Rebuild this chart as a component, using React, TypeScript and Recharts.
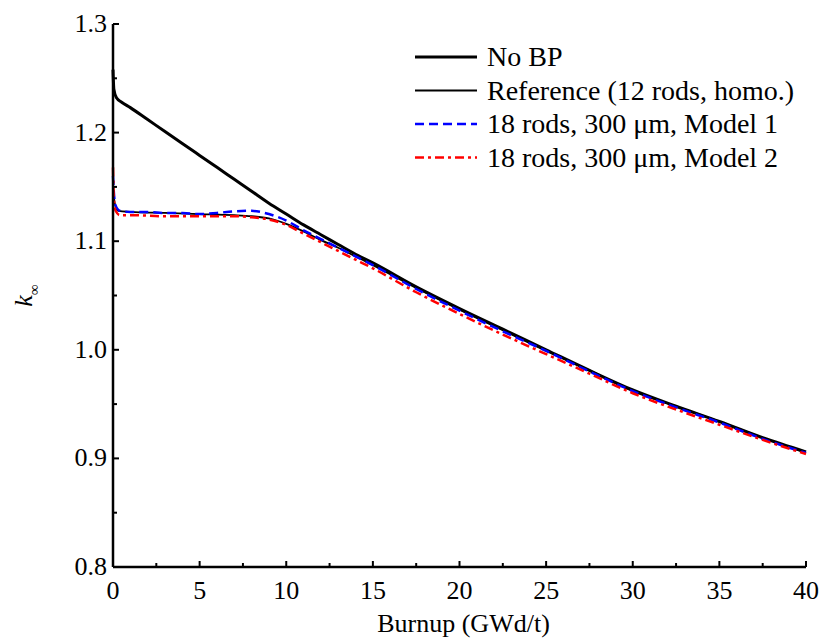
import React from 'react';
import { LineChart, Line, XAxis, YAxis } from 'recharts';

// burnup points (GWd/t) and k-inf values
const noBpBurnup = [0, 0.05, 0.2, 0.5, 1, 2, 3, 4, 5, 6, 7, 8, 9, 10, 11, 12, 13, 14, 15, 17.5, 20, 22.5, 25, 27.5, 30, 32.5, 35, 37.5, 40];
const noBpK = [1.258, 1.240, 1.232, 1.228, 1.223, 1.212, 1.201, 1.190, 1.179, 1.168, 1.157, 1.146, 1.135, 1.125, 1.115, 1.106, 1.097, 1.088, 1.080, 1.058, 1.038, 1.019, 1.000, 0.981, 0.963, 0.948, 0.934, 0.919, 0.906];

const refBurnup = [0, 0.1, 0.3, 1, 3, 5, 7, 8, 9, 10, 11, 12, 13, 14, 15, 17.5, 20, 22.5, 25, 27.5, 30, 32.5, 35, 37.5, 40];
const refK = [1.150, 1.135, 1.128, 1.127, 1.126, 1.125, 1.124, 1.123, 1.121, 1.116, 1.109, 1.101, 1.094, 1.086, 1.078, 1.057, 1.037, 1.018, 0.999, 0.981, 0.962, 0.948, 0.934, 0.919, 0.905];

const m1Burnup = [0, 0.05, 0.15, 0.4, 1, 2, 3, 4, 5, 6, 7, 8, 8.5, 9, 10, 11, 12, 13, 14, 15, 17.5, 20, 22.5, 25, 27.5, 30, 32.5, 35, 37.5, 40];
const m1K = [1.160, 1.145, 1.133, 1.128, 1.127, 1.127, 1.126, 1.126, 1.125, 1.126, 1.1275, 1.128, 1.127, 1.125, 1.119, 1.110, 1.102, 1.094, 1.086, 1.078, 1.056, 1.036, 1.017, 0.999, 0.980, 0.962, 0.947, 0.933, 0.918, 0.905];

const m2Burnup = [0, 0.05, 0.15, 0.4, 1, 3, 5, 7, 8, 9, 10, 11, 12, 13, 14, 15, 17.5, 20, 22.5, 25, 27.5, 30, 32.5, 35, 37.5, 40];
const m2K = [1.168, 1.140, 1.128, 1.124, 1.124, 1.123, 1.123, 1.123, 1.122, 1.120, 1.115, 1.107, 1.099, 1.091, 1.083, 1.075, 1.053, 1.033, 1.014, 0.996, 0.978, 0.960, 0.945, 0.931, 0.917, 0.904];

const xTicks = [0, 2.5, 5, 7.5, 10, 12.5, 15, 17.5, 20, 22.5, 25, 27.5, 30, 32.5, 35, 37.5, 40];
const yTicks = [0.8, 0.85, 0.9, 0.95, 1.0, 1.05, 1.1, 1.15, 1.2, 1.25, 1.3];

const series = [
  { name: 'No BP', b: noBpBurnup, k: noBpK, color: '#000', width: 3, dash: undefined },
  { name: 'Reference (12 rods, homo.)', b: refBurnup, k: refK, color: '#000', width: 1.8, dash: undefined },
  { name: '18 rods, 300 \u03bcm, Model 1', b: m1Burnup, k: m1K, color: '#0000ff', width: 2.5, dash: '9 5' },
  { name: '18 rods, 300 \u03bcm, Model 2', b: m2Burnup, k: m2K, color: '#ff0000', width: 2.5, dash: '9 4 3 4' },
];

const toRows = (b: number[], k: number[]) => b.map((v, i) => ({ b: v, k: k[i] }));

const FONT = '"Liberation Serif", "Times New Roman", serif';
const txt = { fontFamily: FONT, fontSize: 26 };

const isMajor = (v: number, step: number) => Math.abs(v / step - Math.round(v / step)) < 1e-6;

const BottomTick = (props: any) => {
  const { x, y, payload } = props;
  const major = isMajor(payload.value, 5);
  return (
    <g>
      <line x1={x} y1={y} x2={x} y2={y - (major ? 6 : 4)} stroke="#000" strokeWidth={2} />
      {major && (
        <text x={x} y={y + 32} textAnchor="middle" style={txt} fill="#000">
          {payload.value}
        </text>
      )}
    </g>
  );
};

const TopTick = (props: any) => {
  const { x, y } = props;
  return <line x1={x} y1={y} x2={x} y2={y + 4} stroke="#000" strokeWidth={2} />;
};

const LeftTick = (props: any) => {
  const { x, y, payload } = props;
  const major = isMajor(payload.value, 0.1);
  return (
    <g>
      <line x1={x} y1={y} x2={x + (major ? 6 : 4)} y2={y} stroke="#000" strokeWidth={2} />
      {major && (
        <text x={x - 6} y={y + 8} textAnchor="end" style={txt} fill="#000">
          {payload.value.toFixed(1)}
        </text>
      )}
    </g>
  );
};

const YLabel = (props: any) => {
  const { viewBox } = props;
  const cy = viewBox.y + viewBox.height / 2;
  return (
    <text transform={`translate(32, ${cy}) rotate(-90)`} textAnchor="middle" style={{ fontFamily: FONT }} fill="#000">
      <tspan fontSize={26} fontStyle="italic">k</tspan>
      <tspan fontSize={15} dy={7}>{'\u221e'}</tspan>
    </text>
  );
};

const XLabel = (props: any) => {
  const { viewBox } = props;
  const cx = viewBox.x + viewBox.width / 2;
  return (
    <text x={cx + 4} y={viewBox.y + 65} textAnchor="middle" style={txt} fill="#000">
      Burnup (GWd/t)
    </text>
  );
};

const LegendBox = () => (
  <svg width={400} height={140} style={{ position: 'absolute', left: 413, top: 41 }}>
    {series.map((s, i) => {
      const y = 16 + i * 33.5;
      return (
        <g key={s.name}>
          <line x1={2} y1={y} x2={64} y2={y} stroke={s.color} strokeWidth={s.width} strokeDasharray={s.dash} />
          <text x={74} y={y + 9} style={{ fontFamily: FONT, fontSize: 28 }} fill="#000">{s.name}</text>
        </g>
      );
    })}
  </svg>
);

export default function App() {
  return (
    <div style={{ position: 'fixed', left: 0, top: 0, width: 822, height: 641, background: '#fff', fontFamily: FONT }}>
      <LineChart width={822} height={641} margin={{ top: 24, right: 16, left: 0, bottom: 0 }}>
        <XAxis
          xAxisId="bottom"
          dataKey="b"
          type="number"
          domain={[0, 40]}
          ticks={xTicks}
          interval={0}
          height={74}
          tickSize={0}
          tickMargin={0}
          tick={<BottomTick />}
          axisLine={{ stroke: '#000', strokeWidth: 2.5 }}
          allowDuplicatedCategory={false}
          label={<XLabel />}
        />
        <XAxis
          xAxisId="top"
          orientation="top"
          dataKey="b"
          type="number"
          domain={[0, 40]}
          ticks={xTicks}
          interval={0}
          height={0}
          tickSize={0}
          tickMargin={0}
          tick={<TopTick />}
          axisLine={{ stroke: '#000', strokeWidth: 2.5 }}
        />
        <YAxis
          yAxisId="left"
          type="number"
          domain={[0.8, 1.3]}
          ticks={yTicks}
          interval={0}
          width={113}
          tickSize={0}
          tickMargin={0}
          tick={<LeftTick />}
          axisLine={{ stroke: '#000', strokeWidth: 2.5 }}
          label={<YLabel />}
        />
        <YAxis
          yAxisId="right"
          orientation="right"
          type="number"
          domain={[0.8, 1.3]}
          width={0}
          tick={false}
          tickLine={false}
          axisLine={{ stroke: '#000', strokeWidth: 2.5 }}
        />
        {series.map((s) => (
          <Line
            key={s.name}
            xAxisId="bottom"
            yAxisId="left"
            data={toRows(s.b, s.k)}
            dataKey="k"
            name={s.name}
            type="monotone"
            stroke={s.color}
            strokeWidth={s.width}
            strokeDasharray={s.dash}
            dot={false}
            activeDot={false}
            isAnimationActive={false}
          />
        ))}
      </LineChart>
      <LegendBox />
    </div>
  );
}
